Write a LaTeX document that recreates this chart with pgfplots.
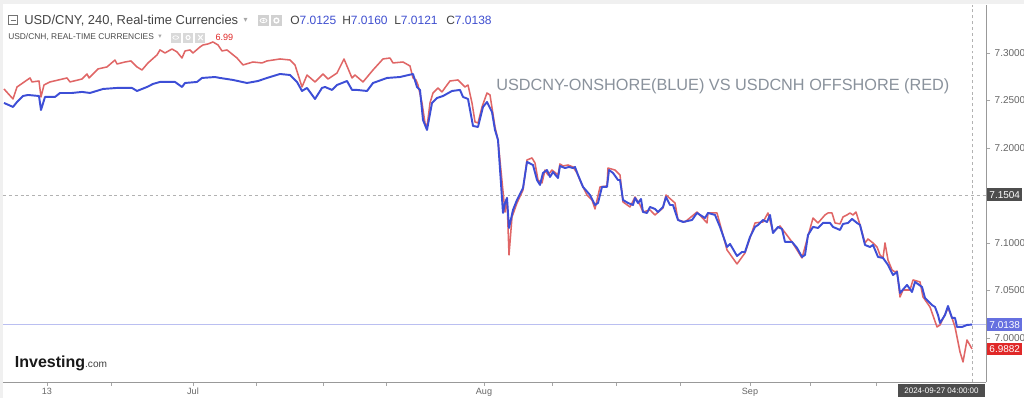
\documentclass[border=0pt]{standalone}
\usepackage{pgfplots}
\pgfplotsset{compat=1.18}
\usepackage{fontspec}
\setmainfont{Liberation Sans}
\newfontfamily\dejavu{DejaVu Sans}
\definecolor{cnyblue}{HTML}{3D4ED6}
\definecolor{cnhred}{HTML}{E06666}
\definecolor{boxgray}{HTML}{4D4D4D}
\definecolor{boxblue}{HTML}{6670E0}
\definecolor{boxred}{HTML}{E02828}
\definecolor{titlegray}{HTML}{8A929C}
\definecolor{hdrgray}{HTML}{444444}
\definecolor{ohlcblue}{HTML}{3F4FD0}
\newcommand{\fs}[1]{\fontsize{#1}{#1}\selectfont}
\begin{document}
\begin{tikzpicture}
\fill[white] (0,0) rectangle (768pt,298.5pt);
\fill[black!6] (0,295.5pt) rectangle (768pt,298.5pt);
\fill[black!6] (0,0) rectangle (2pt,298.5pt);
\begin{axis}[
  at={(2.25pt,12pt)}, anchor=south west,
  scale only axis, width=737.25pt, height=282.75pt,
  xmin=3, xmax=986, ymin=6.95337, ymax=7.35021,
  axis x line=bottom, axis y line=right,
  axis line style={-, draw=black!40},
  tick style={draw=black!35},
  tick align=outside,
  major tick length=3pt, minor tick length=3pt,
  xtick={47,193,484,750}, xticklabels={13,Jul,Aug,Sep},
  minor xtick={111,256,323,386,552,616,680,810,876},
  xticklabel style={font=\fs{6.8}, text=black!60, yshift=2pt},
  ytick={7,7.05,7.1,7.2,7.25,7.3},
  /pgf/number format/assume math mode=true,
  yticklabel style={font=\fs{7.5}, text=black!60,
    /pgf/number format/fixed, /pgf/number format/fixed zerofill,
    /pgf/number format/precision=4},
]
\draw[black!30, dash pattern=on 2.2pt off 2.2pt] (axis cs:3,7.1504) -- (axis cs:986,7.1504);
\draw[black!30, dash pattern=on 2.2pt off 2.2pt] (axis cs:972,6.95337) -- (axis cs:972,7.35021);
\draw[boxblue!45, line width=0.5pt] (axis cs:3,7.0138) -- (axis cs:986,7.0138);
\addplot[cnhred, line width=1.15pt, line join=round] coordinates {
(4,7.2618)(13,7.2513)(17,7.2639)(30,7.2734)(32,7.2692)(39,7.2702)(41,7.2534)(44,7.2660)(50,7.2692)(67,7.2734)(70,7.2692)(82,7.2723)(87,7.2776)(89,7.2734)(98,7.2829)(107,7.2850)(115,7.2923)(117,7.2881)(125,7.2902)(131,7.2913)(137,7.2850)(142,7.2818)(148,7.2892)(157,7.2976)(160,7.3029)(165,7.2997)(172,7.3039)(177,7.3008)(182,7.2944)(185,7.3018)(190,7.3029)(193,7.2997)(200,7.3060)(203,7.3081)(208,7.3092)(213,7.3113)(218,7.3081)(222,7.3018)(227,7.3029)(237,7.2944)(243,7.2871)(253,7.2902)(262,7.2892)(267,7.2913)(280,7.2934)(290,7.2923)(295,7.2871)(302,7.2639)(307,7.2765)(315,7.2692)(323,7.2776)(328,7.2723)(337,7.2786)(344,7.2934)(352,7.2734)(355,7.2765)(363,7.2692)(373,7.2818)(383,7.2934)(390,7.2944)(393,7.2892)(403,7.2902)(410,7.2860)(413,7.2734)(416,7.2713)(418,7.2660)(422,7.2471)(425,7.2260)(427,7.2218)(430,7.2471)(433,7.2576)(438,7.2629)(442,7.2587)(447,7.2660)(450,7.2702)(458,7.2713)(462,7.2671)(465,7.2639)(468,7.2660)(472,7.2471)(475,7.2271)(478,7.2260)(482,7.2429)(487,7.2576)(490,7.2555)(495,7.2218)(498,7.2081)(505,7.1323)(507,7.1471)(509,7.0871)(512,7.1271)(517,7.1418)(523,7.1555)(527,7.1871)(532,7.1892)(535,7.1839)(538,7.1660)(542,7.1629)(545,7.1765)(548,7.1713)(552,7.1765)(558,7.1713)(560,7.1829)(563,7.1807)(568,7.1818)(573,7.1797)(577,7.1734)(582,7.1608)(587,7.1502)(592,7.1450)(595,7.1355)(600,7.1587)(607,7.1597)(608,7.1786)(615,7.1765)(620,7.1713)(623,7.1429)(630,7.1376)(635,7.1481)(640,7.1397)(643,7.1323)(650,7.1345)(655,7.1292)(663,7.1366)(666,7.1502)(675,7.1418)(678,7.1239)(685,7.1218)(697,7.1323)(707,7.1208)(708,7.1313)(717,7.1313)(727,7.0924)(737,7.0776)(745,7.0892)(755,7.1208)(763,7.1218)(768,7.1313)(773,7.1113)(780,7.1176)(792,7.1008)(802,7.0839)(813,7.1260)(818,7.1208)(825,7.1292)(828,7.1313)(832,7.1313)(835,7.1208)(840,7.1197)(843,7.1271)(847,7.1292)(850,7.1313)(853,7.1292)(856,7.1323)(860,7.1187)(865,7.0997)(868,7.1039)(873,7.0997)(877,7.0955)(880,7.0871)(883,7.0839)(885,7.0997)(888,7.0818)(892,7.0713)(895,7.0692)(897,7.0702)(900,7.0429)(903,7.0502)(910,7.0502)(913,7.0608)(920,7.0587)(923,7.0429)(930,7.0323)(937,7.0113)(940,7.0134)(948,7.0313)(952,7.0208)(955,7.0113)(960,6.9850)(963,6.9745)(967,6.9976)(972,6.9882)
};
\addplot[cnyblue, line width=1.45pt, line join=round] coordinates {
(4,7.2471)(13,7.2429)(17,7.2481)(23,7.2544)(28,7.2555)(39,7.2544)(41,7.2397)(45,7.2534)(55,7.2534)(60,7.2576)(72,7.2576)(82,7.2587)(90,7.2576)(103,7.2618)(117,7.2629)(132,7.2629)(137,7.2597)(147,7.2639)(153,7.2671)(160,7.2692)(175,7.2692)(182,7.2639)(185,7.2681)(197,7.2692)(202,7.2734)(215,7.2744)(220,7.2734)(233,7.2713)(247,7.2681)(258,7.2702)(267,7.2734)(280,7.2776)(290,7.2765)(297,7.2692)(302,7.2597)(307,7.2629)(315,7.2513)(322,7.2629)(325,7.2639)(332,7.2608)(337,7.2660)(347,7.2702)(352,7.2608)(357,7.2608)(367,7.2597)(373,7.2681)(387,7.2734)(400,7.2744)(413,7.2776)(417,7.2639)(420,7.2608)(423,7.2292)(427,7.2187)(432,7.2471)(437,7.2523)(443,7.2544)(452,7.2597)(460,7.2608)(463,7.2534)(468,7.2513)(473,7.2229)(478,7.2218)(483,7.2429)(487,7.2481)(492,7.2376)(495,7.2187)(498,7.2081)(503,7.1313)(505,7.1418)(507,7.1471)(509,7.1155)(513,7.1345)(517,7.1450)(523,7.1576)(527,7.1850)(533,7.1818)(537,7.1660)(540,7.1608)(543,7.1734)(547,7.1765)(550,7.1692)(553,7.1744)(558,7.1681)(560,7.1807)(565,7.1786)(569,7.1797)(573,7.1786)(575,7.1797)(578,7.1713)(583,7.1587)(590,7.1502)(595,7.1397)(598,7.1418)(602,7.1587)(607,7.1587)(609,7.1765)(613,7.1734)(618,7.1660)(620,7.1660)(623,7.1450)(628,7.1418)(633,7.1397)(635,7.1471)(638,7.1418)(641,7.1460)(643,7.1323)(647,7.1313)(650,7.1376)(655,7.1355)(658,7.1323)(663,7.1376)(666,7.1481)(670,7.1397)(673,7.1397)(678,7.1239)(683,7.1218)(692,7.1239)(697,7.1313)(705,7.1260)(708,7.1313)(715,7.1292)(720,7.1166)(727,7.0955)(730,7.0987)(737,7.0860)(742,7.0902)(745,7.0902)(750,7.1060)(755,7.1166)(758,7.1187)(763,7.1239)(767,7.1218)(770,7.1292)(773,7.1102)(778,7.1166)(782,7.1144)(785,7.1008)(792,7.1008)(797,7.0945)(802,7.0850)(805,7.0871)(808,7.1081)(813,7.1166)(818,7.1155)(823,7.1208)(830,7.1208)(833,7.1166)(840,7.1134)(843,7.1197)(848,7.1208)(852,7.1250)(857,7.1208)(860,7.1187)(865,7.0976)(870,7.0955)(873,7.0976)(878,7.0850)(883,7.0839)(888,7.0766)(893,7.0660)(897,7.0692)(900,7.0471)(907,7.0555)(912,7.0481)(915,7.0587)(922,7.0534)(925,7.0418)(932,7.0344)(935,7.0323)(938,7.0239)(940,7.0155)(945,7.0239)(948,7.0334)(952,7.0208)(955,7.0208)(957,7.0113)(962,7.0113)(967,7.0134)(972,7.0138)
};
\coordinate (b1) at (axis cs:986,7.1504);
\coordinate (b2) at (axis cs:986,7.0138);
\coordinate (b3) at (axis cs:986,6.9882);
\coordinate (dt) at (axis cs:941.5,6.95337);
\end{axis}
% price boxes
\node[fill=boxgray, text=white, anchor=west, minimum width=26.5pt, minimum height=9.5pt, inner sep=0.8pt, font=\fs{7.5}] at ([xshift=0.6pt]b1) {7.1504};
\node[fill=boxblue, text=white, anchor=west, minimum width=26.5pt, minimum height=9.5pt, inner sep=0.8pt, font=\fs{7.5}] at ([xshift=0.6pt]b2) {7.0138};
\node[fill=boxred, text=white, anchor=west, minimum width=26.5pt, minimum height=9.5pt, inner sep=0.8pt, font=\fs{7.5}] at ([xshift=0.6pt]b3) {6.9882};
\node[fill=boxgray, text=white, anchor=north, minimum width=65pt, minimum height=9.75pt, inner sep=0.5pt, font=\fs{6}] at ([yshift=-1.2pt]dt) {2024-09-27 04:00:00};
% header line 1
\draw[black!55, line width=0.5pt] (6.4pt,280pt) rectangle (13.3pt,286.9pt);
\draw[black!55, line width=0.5pt] (8pt,283.45pt) -- (11.7pt,283.45pt);
\node[anchor=west, inner sep=0pt, text=hdrgray, font=\fs{9.7}] at (18pt,283.2pt) {USD/CNY, 240, Real-time Currencies};
\node[anchor=west, inner sep=0pt, text=black!35, font=\dejavu\fs{6}] at (182.5pt,283.5pt) {▾};
\fill[black!18] (193.5pt,279pt) rectangle (201.7pt,287.2pt);
\fill[black!18] (203.2pt,279pt) rectangle (211.4pt,287.2pt);
\draw[white, line width=0.6pt] (197.6pt,283.1pt) ellipse (2.6pt and 1.6pt);
\fill[white] (197.6pt,283.1pt) circle (0.8pt);
\draw[white, line width=1pt] (207.3pt,283.1pt) circle (1.8pt);
\node[anchor=west, inner sep=0pt, font=\fs{9}] at (217.5pt,283.2pt) {\textcolor{hdrgray}{O}\textcolor{ohlcblue}{7.0125}};
\node[anchor=west, inner sep=0pt, font=\fs{9}] at (256.5pt,283.2pt) {\textcolor{hdrgray}{H}\textcolor{ohlcblue}{7.0160}};
\node[anchor=west, inner sep=0pt, font=\fs{9}] at (295.5pt,283.2pt) {\textcolor{hdrgray}{L}\textcolor{ohlcblue}{7.0121}};
\node[anchor=west, inner sep=0pt, font=\fs{9}] at (334.5pt,283.2pt) {\textcolor{hdrgray}{C}\textcolor{ohlcblue}{7.0138}};
% header line 2
\node[anchor=west, inner sep=0pt, text=black!70, font=\fs{6.3}] at (6pt,270.4pt) {USD/CNH, REAL-TIME CURRENCIES};
\node[anchor=west, inner sep=0pt, text=black!35, font=\dejavu\fs{5}] at (118.5pt,270.6pt) {▾};
\fill[black!15] (128pt,266.6pt) rectangle (135.5pt,274.1pt);
\fill[black!15] (137.3pt,266.6pt) rectangle (144.8pt,274.1pt);
\fill[black!15] (146.6pt,266.6pt) rectangle (154.1pt,274.1pt);
\draw[white, line width=0.5pt] (131.75pt,270.35pt) ellipse (2.2pt and 1.3pt);
\draw[white, line width=0.8pt] (141.05pt,270.35pt) circle (1.5pt);
\draw[white, line width=0.7pt] (148.6pt,268.4pt) -- (152.1pt,272.3pt) (148.6pt,272.3pt) -- (152.1pt,268.4pt);
\node[anchor=west, inner sep=0pt, text=boxred, font=\fs{6.8}] at (161.5pt,270.6pt) {6.99};
% title
\node[anchor=west, inner sep=0pt, text=titlegray, font=\fs{12.2}] at (372pt,234pt) {USDCNY-ONSHORE(BLUE) VS USDCNH OFFSHORE (RED)};
% logo
\node[anchor=base west, inner sep=0pt, text=black!90] at (11pt,22.5pt) {{\fs{12}\bfseries Investing}{\fs{7.6}\textcolor{black!75}{.com}}};
\pgfresetboundingbox
\path (0,0) rectangle (768pt,298.5pt);
\end{tikzpicture}
\end{document}
